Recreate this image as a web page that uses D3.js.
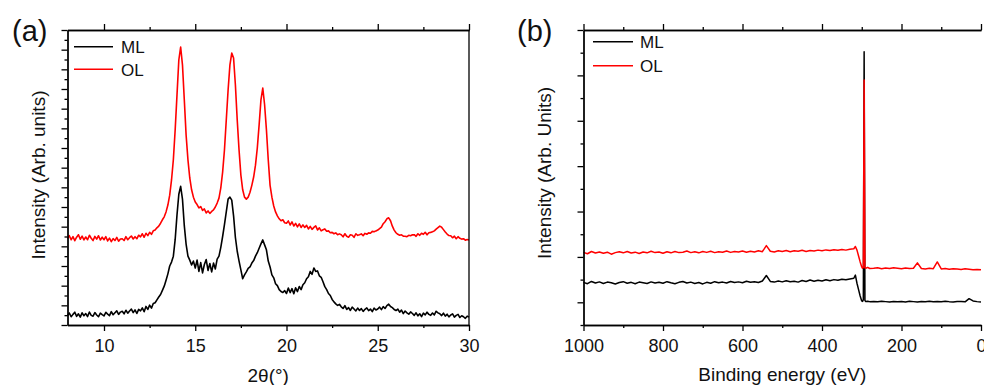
<!DOCTYPE html>
<html lang="en">

<head>
  <meta charset="UTF-8">
  <meta name="viewport" content="width=device-width, initial-scale=1.0">

  <!-- Load d3.js -->
  <script src="https://d3js.org/d3.v7.min.js"></script>

  <style>
    body {
      margin: 0;
      background: #fff;
    }

    svg {
      display: block;
      font-family: "Liberation Sans", Arial, sans-serif;
    }

    .axis path,
    .axis line {
      stroke: #000;
      stroke-width: 1.3px;
    }

    .axis text {
      font-size: 18px;
      fill: #111;
    }

    .title {
      font-size: 19px;
      fill: #111;
    }

    .legend text {
      font-size: 17px;
      fill: #111;
    }
  </style>

  <title>XRD and XPS</title>
</head>

<body>

  <svg id="chart" width="984" height="385"></svg>

  <script>

    // ---- data: (a) XRD, 2theta from 8 to 30 in steps of 0.1 deg ----
    var xrdStart = 8, xrdEnd = 30, xrdStep = 0.1;

    var xrdML = [
      95, 122, 84, 108, 130, 88, 114, 80, 124, 94,
      116, 86, 132, 98, 90, 126, 102, 84, 121, 105,
      92, 129, 110, 95, 136, 104, 124, 144, 108, 131,
      139, 114, 150, 120, 143, 162, 126, 153, 117, 159,
      144, 174, 135, 189, 158, 202, 172, 219, 226, 256,
      285, 310, 352, 395, 455, 520, 600, 640, 700, 870,
      1120, 1330, 1410, 1280, 1010, 820, 700, 660, 610, 650,
      580, 660, 545, 635, 530, 615, 665, 555, 625, 540,
      630, 570, 670, 700, 790, 900, 1020, 1150, 1280, 1300,
      1270, 1110, 890, 750, 650, 560, 470, 510, 540, 575,
      590, 630, 655, 700, 735, 780, 825, 865, 815, 765,
      650, 590, 510, 480, 420, 400, 360, 340, 330, 350,
      320, 375, 330, 370, 318, 378, 340, 392, 360, 410,
      430, 470, 490, 545, 515, 580, 545, 550, 500, 485,
      440, 390, 360, 320, 300, 260, 235, 215, 200, 210,
      185, 168, 197, 158, 177, 148, 182, 163, 143, 172,
      148, 167, 138, 160, 174, 146, 162, 136, 172, 153,
      163, 182, 156, 187, 168, 197, 212, 188, 177, 158,
      147, 162, 130, 152, 116, 142, 123, 110, 133, 117,
      98, 124, 93, 114, 86, 120, 103, 130, 108, 98,
      122, 103, 140, 123, 114, 96, 120, 90, 110, 83,
      102, 113, 80, 98, 108, 76, 94, 84, 68, 90,
      80
    ];

    var xrdOL = [
      880, 908, 867, 898, 857, 893, 918, 872, 903, 865,
      895, 867, 913, 882, 859, 901, 873, 908, 865, 893,
      867, 898, 855, 883, 847, 878, 859, 891, 852, 875,
      877, 859, 898, 867, 888, 905, 875, 898, 877, 913,
      897, 928, 892, 933, 909, 943, 922, 958, 965, 988,
      1005, 1035, 1070, 1100, 1150, 1220, 1320, 1475, 1680, 1985,
      2340, 2695, 2827, 2645, 2290, 1930, 1680, 1495, 1375, 1300,
      1250, 1225, 1190, 1205, 1165, 1180, 1140, 1160, 1135, 1155,
      1170, 1200, 1240, 1290, 1395, 1555, 1780, 2085, 2390, 2645,
      2765, 2715, 2440, 2085, 1780, 1525, 1375, 1300, 1280, 1300,
      1350, 1420, 1505, 1625, 1800, 2035, 2290, 2410, 2240, 1985,
      1680, 1420, 1300, 1210, 1150, 1110, 1080, 1060, 1070, 1040,
      1035, 1058, 1017, 1048, 1007, 1033, 997, 1028, 992, 1018,
      992, 1013, 977, 1003, 972, 993, 1008, 967, 988, 957,
      968, 977, 953, 957, 938, 942, 928, 937, 918, 927,
      918, 897, 928, 902, 893, 917, 913, 892, 928, 912,
      918, 927, 908, 932, 923, 937, 933, 952, 948, 957,
      965, 980, 995, 1030, 1050, 1080, 1090, 1060, 1005, 965,
      938, 922, 913, 917, 903, 902, 898, 912, 908, 917,
      918, 902, 928, 912, 933, 922, 943, 917, 938, 942,
      948, 957, 975, 990, 1005, 995, 970, 945, 925, 910,
      908, 887, 903, 877, 898, 882, 873, 877, 863, 869,
      865
    ];

    var xrdTicks = [10, 15, 20, 25, 30];

    // ---- data: (b) XPS survey, binding energy in eV ----
    var xpsEnergy = [].concat(
      d3.range(1000, 320, -10),
      [320, 316, 312, 308, 304, 300, 298, 296, 294, 292, 290, 285, 280],
      d3.range(270, -1, -10)
    );

    var xpsML = [
      4400, 4100, 4600, 4250, 4500, 4150, 4450, 4300, 4050, 4350,
      4550, 4200, 4400, 4100, 4450, 4300, 4150, 4500, 4250, 4400,
      4200, 4550, 4300, 4100, 4400, 4600, 4250, 4450, 4150, 4350,
      4050, 4400, 4200, 4550, 4300, 4450, 4250, 4600, 4350, 4500,
      4300, 4650, 4400, 4550, 4350, 4700, 5900, 4600, 4450, 4700,
      4500, 4750, 4550, 4650, 4450, 4800, 4600, 4900, 4650, 4850,
      4700, 4950, 4750, 5000, 4850, 5100, 4950, 5150,
      5300, 6000, 4200, 2800, 1400, 300, 200, 600, 55200, 400, 200, 250, 150,
      200, 100, 250, 150, 50, 200, 120, 180, 80, 220,
      150, 60, 200, 130, 250, 100, 180, 120, 240, 150,
      90, 200, 160, 100, 800, 300, 150, 50
    ];

    var xpsOL = [
      11000, 10700, 11200, 10850, 11100, 10800, 11050, 10600, 10950, 11150,
      10900, 11200, 10850, 11050, 10750, 11100, 10900, 11250, 10950, 11100,
      10800, 11150, 10900, 11200, 10950, 11050, 11300, 10950, 11150, 10900,
      11200, 11000, 11250, 10950, 11150, 11050, 11300, 11000, 11200, 11100,
      11300, 11050, 11250, 11100, 11350, 11150, 12500, 11250, 11100, 11350,
      11200, 11400, 11150, 11350, 11250, 11450, 11200, 11400, 11300, 11500,
      11350, 11550, 11400, 11600, 11450, 11650, 11500, 11700,
      11800, 12300, 11500, 10200, 8900, 7800, 7500, 7700, 49000, 7600, 7500, 7700, 7450,
      7500, 7600, 7400, 7550, 7450, 7600, 7500, 7400, 7550, 7450,
      7500, 8700, 7450, 7350, 7500, 7400, 8900, 7350, 7450, 7300,
      7400, 7350, 7250, 7400, 7300, 7200, 7250, 7150
    ];

    var xpsTicks = [1000, 800, 600, 400, 200, 0];

    var seriesNames = ["ML", "OL"];
    var seriesColors = ["#000000", "#ff0000"];

    // Create the svg element
    var svg = d3.select("#chart");

    var plotTop = 30, plotBottom = 325;

    // draws the axes of one panel with major/minor ticks
    function drawFrame(x, y, opt) {
      var g = svg.append("g");
      var x0 = x.range()[0], x1 = x.range()[1];

      // bottom axis
      g.append("g").attr("class", "axis")
        .attr("transform", "translate(0," + plotBottom + ")")
        .call(d3.axisBottom(x).tickValues(opt.xMinor).tickSize(3).tickSizeOuter(0).tickFormat(""));
      g.append("g").attr("class", "axis")
        .attr("transform", "translate(0," + plotBottom + ")")
        .call(d3.axisBottom(x).tickValues(opt.xMajor).tickSize(6).tickSizeOuter(0).tickPadding(8).tickFormat(d3.format("d")));

      // top axis (no labels)
      g.append("g").attr("class", "axis")
        .attr("transform", "translate(0," + plotTop + ")")
        .call(d3.axisTop(x).tickValues(opt.xMinor).tickSize(3).tickSizeOuter(0).tickFormat(""));
      g.append("g").attr("class", "axis")
        .attr("transform", "translate(0," + plotTop + ")")
        .call(d3.axisTop(x).tickValues(opt.xMajor).tickSize(6).tickSizeOuter(0).tickFormat(""));

      // left axis (no labels)
      g.append("g").attr("class", "axis")
        .attr("transform", "translate(" + x0 + ",0)")
        .call(d3.axisLeft(y).tickValues(opt.yMinor).tickSize(3).tickSizeOuter(0).tickFormat(""));
      g.append("g").attr("class", "axis")
        .attr("transform", "translate(" + x0 + ",0)")
        .call(d3.axisLeft(y).tickValues(opt.yMajor).tickSize(6).tickSizeOuter(0).tickFormat(""));

      // right border
      if (opt.rightBorder) {
        g.append("line")
          .attr("x1", x1).attr("x2", x1)
          .attr("y1", plotTop).attr("y2", plotBottom)
          .style("stroke", "#000").style("stroke-width", 1.3);
      }

      return g;
    }

    function drawLegend(x, yPos, textX) {
      var legend = svg.selectAll(null)
        .data(seriesNames)
        .enter().append("g")
        .attr("class", "legend");

      legend.append("line")
        .attr("x1", x[0]).attr("x2", x[1])
        .attr("y1", function (d, i) { return yPos[i]; })
        .attr("y2", function (d, i) { return yPos[i]; })
        .style("stroke", function (d, i) { return seriesColors[i]; })
        .style("stroke-width", 1.6);

      legend.append("text")
        .attr("x", textX)
        .attr("y", function (d, i) { return yPos[i] + 6.5; })
        .text(function (d) { return d; });
    }

    // ================= (a) XRD =================
    var xA = d3.scaleLinear().domain([8, 30]).range([67.5, 469]);
    var yA = d3.scaleLinear().domain([0, 3000]).range([plotBottom, plotTop]);

    var twoTheta = d3.range(0, xrdML.length).map(function (i) { return +(xrdStart + i * xrdStep).toFixed(1); });

    var lineA = d3.line()
      .x(function (d) { return xA(d[0]); })
      .y(function (d) { return yA(d[1]); });

    [xrdML, xrdOL].forEach(function (s, k) {
      svg.append("path")
        .datum(twoTheta.map(function (t, i) { return [t, s[i]]; }))
        .attr("d", lineA)
        .style("fill", "none")
        .style("stroke", seriesColors[k])
        .style("stroke-width", 1.6)
        .style("stroke-linejoin", "round");
    });

    drawFrame(xA, yA, {
      xMajor: xrdTicks,
      xMinor: [12.5, 17.5, 22.5, 27.5],
      yMajor: d3.range(0, 3001, 200),
      yMinor: d3.range(100, 3000, 200),
      rightBorder: true
    });

    drawLegend([74, 113], [46.7, 69.3], 121);

    svg.append("text").attr("class", "title")
      .attr("x", xA(19)).attr("y", 382)
      .attr("text-anchor", "middle")
      .text("2θ(°)");

    svg.append("text").attr("class", "title")
      .attr("transform", "translate(45,175) rotate(-90)")
      .attr("text-anchor", "middle")
      .text("Intensity (Arb. units)");

    svg.append("text")
      .attr("x", 12).attr("y", 41)
      .style("font-size", "29px")
      .style("fill", "#111")
      .text("(a)");

    // ================= (b) XPS =================
    var xB = d3.scaleLinear().domain([1000, 0]).range([583.5, 981]);
    var yB = d3.scaleLinear().domain([-5000, 60000]).range([plotBottom, plotTop]);

    var lineB = d3.line()
      .x(function (d) { return xB(d[0]); })
      .y(function (d) { return yB(d[1]); });

    [xpsML, xpsOL].forEach(function (s, k) {
      svg.append("path")
        .datum(xpsEnergy.map(function (e, i) { return [e, s[i]]; }))
        .attr("d", lineB)
        .style("fill", "none")
        .style("stroke", seriesColors[k])
        .style("stroke-width", 1.5)
        .style("stroke-linejoin", "round");
    });

    drawFrame(xB, yB, {
      xMajor: xpsTicks,
      xMinor: [900, 700, 500, 300, 100],
      yMajor: d3.range(0, 60001, 10000),
      yMinor: d3.range(-5000, 60000, 10000),
      rightBorder: false
    });

    drawLegend([593, 633], [41.7, 65.7], 640);

    svg.append("text").attr("class", "title")
      .attr("x", xB(500)).attr("y", 381)
      .attr("text-anchor", "middle")
      .text("Binding energy (eV)");

    svg.append("text").attr("class", "title")
      .attr("transform", "translate(551,173) rotate(-90)")
      .attr("text-anchor", "middle")
      .text("Intensity (Arb. Units)");

    svg.append("text")
      .attr("x", 517).attr("y", 41)
      .style("font-size", "29px")
      .style("fill", "#111")
      .text("(b)");

  </script>

</body>

</html>
